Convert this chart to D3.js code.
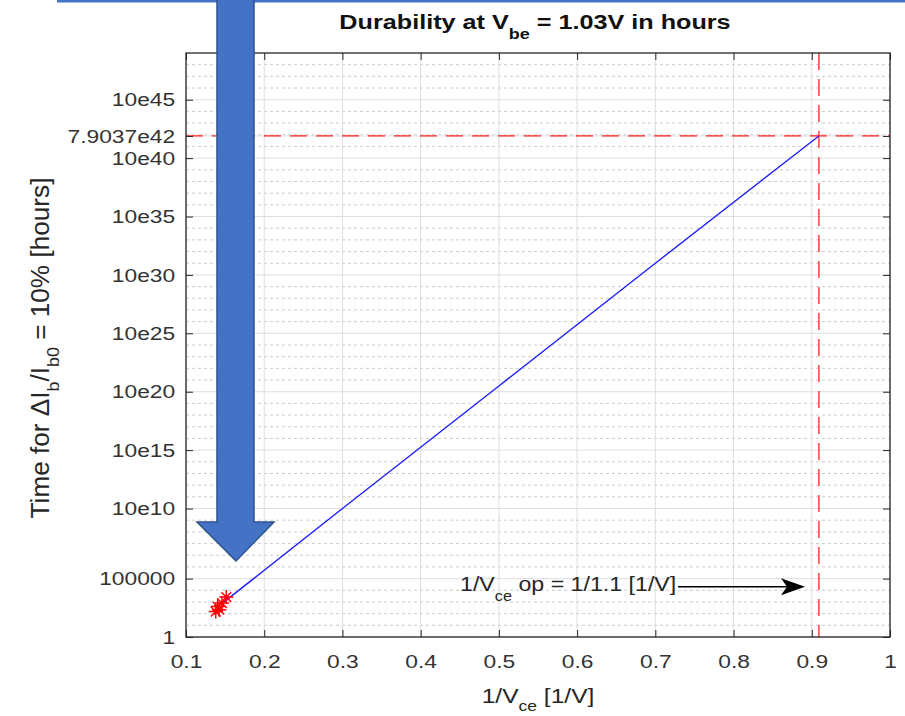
<!DOCTYPE html>
<html>
<head>
<meta charset="utf-8">
<script src="https://cdn.jsdelivr.net/npm/d3@7"></script>
<style>
  body { margin: 0; background: #fff; }
  svg { display: block; font-family: 'Liberation Sans', Arial, Helvetica, sans-serif; }
</style>
</head>
<body>
<svg id="chart"></svg>
<script>
// axis ticks
const xTicks = [0.1, 0.2, 0.3, 0.4, 0.5, 0.6, 0.7, 0.8, 0.9, 1]
const xTickLabels = ['0.1', '0.2', '0.3', '0.4', '0.5', '0.6', '0.7', '0.8', '0.9', '1']
const yTicks = [1, 1e5, 1e11, 1e16, 1e21, 1e26, 1e31, 1e36, 1e41, 7.9037e42, 1e46]
const yTickLabels = ['1', '100000', '10e10', '10e15', '10e20', '10e25', '10e30', '10e35', '10e40', '7.9037e42', '10e45']

// durability line, 1/Vce [1/V] vs hours
const lineX = [0.1455, 0.3, 0.5, 0.7, 0.9091]
const lineY = [6.8e2, 1.0e11, 3.1e21, 1.0e32, 7.9037e42]

// measured points (red stars)
const starX = [0.1380, 0.1405, 0.1425, 0.1460, 0.1515]
const starY = [1.5e2, 4.0e2, 2.2e2, 8.0e2, 2.6e3]

// operating point 1/1.1
const opX = 0.9091
const opY = 7.9037e42

// annotation: text x, arrow start x, arrow end x / text y, arrow y
const noteX = [0.4503, 0.729, 0.8913]
const noteY = [8.7e3, 2.0e4]

const W = 905
const H = 716
const pLeft = 186
const pRight = 890
const pTop = 53
const pBottom = 637
const axisColor = '#262626'

let svg = d3.select('#chart').attr('width', W).attr('height', H)

let x = d3.scaleLinear().domain([0.1, 1]).range([pLeft, pRight])
let y = d3.scaleLog().domain([1, 1e50]).range([pBottom, pTop])

// grid
let grid = svg.append('g')
let minor = d3.range(1, 50).map(e => Math.pow(10, e))
  .filter(v => !yTicks.some(t => Math.abs(Math.log10(t) - Math.log10(v)) < 0.01))
grid.selectAll('.minor').data(minor).enter().append('line')
  .attr('x1', pLeft).attr('x2', pRight)
  .attr('y1', d => y(d)).attr('y2', d => y(d))
  .attr('stroke', '#cccccc')
  .attr('stroke-width', 1)
  .attr('stroke-dasharray', '3,3')
grid.selectAll('.hmajor').data(yTicks).enter().append('line')
  .attr('x1', pLeft).attr('x2', pRight)
  .attr('y1', d => y(d)).attr('y2', d => y(d))
  .attr('stroke', '#dedede')
  .attr('stroke-width', 1)
grid.selectAll('.vmajor').data(xTicks).enter().append('line')
  .attr('x1', d => x(d)).attr('x2', d => x(d))
  .attr('y1', pTop).attr('y2', pBottom)
  .attr('stroke', '#dedede')
  .attr('stroke-width', 1)

// red dashed reference lines
svg.append('line')
  .attr('x1', pLeft).attr('x2', pRight)
  .attr('y1', y(opY)).attr('y2', y(opY))
  .attr('stroke', '#ff2020')
  .attr('stroke-width', 1.3)
  .attr('stroke-dasharray', '17,9')
svg.append('line')
  .attr('x1', x(opX)).attr('x2', x(opX))
  .attr('y1', pTop).attr('y2', pBottom)
  .attr('stroke', '#ff2020')
  .attr('stroke-width', 1.3)
  .attr('stroke-dasharray', '17,9')

// data line
let path = d3.line()
  .x(d => x(d[0]))
  .y(d => y(d[1]))
svg.append('path')
  .attr('d', path(d3.zip(lineX, lineY)))
  .attr('stroke', '#2020ff')
  .attr('stroke-width', 1.4)
  .attr('fill', 'none')

// star markers
let s = 7
let star = `M${-s},0L${s},0M0,${-s}L0,${s}M${-s * 0.7},${-s * 0.7}L${s * 0.7},${s * 0.7}M${-s * 0.7},${s * 0.7}L${s * 0.7},${-s * 0.7}`
svg.selectAll('.star').data(d3.zip(starX, starY)).enter().append('path')
  .attr('d', star)
  .attr('transform', d => `translate(${x(d[0])},${y(d[1])})`)
  .attr('stroke', '#ff0000')
  .attr('stroke-width', 1.5)
  .attr('fill', 'none')

// axes, ticks inward
function styleAxis (g) {
  g.select('.domain').remove()
  g.selectAll('.tick line').attr('stroke', axisColor).attr('stroke-width', 1)
  g.selectAll('.tick text').attr('fill', '#333').attr('font-size', 19)
    .attr('transform', 'scale(1.2,1)')
}

svg.append('g').attr('transform', `translate(${pLeft},0)`)
  .call(d3.axisLeft(y).tickValues(yTicks).tickFormat((d, i) => yTickLabels[i])
    .tickSizeInner(-7).tickSizeOuter(0).tickPadding(9))
  .call(styleAxis)
svg.append('g').attr('transform', `translate(${pRight},0)`)
  .call(d3.axisRight(y).tickValues(yTicks).tickFormat('')
    .tickSizeInner(-7).tickSizeOuter(0))
  .call(styleAxis)
svg.append('g').attr('transform', `translate(0,${pBottom})`)
  .call(d3.axisBottom(x).tickValues(xTicks).tickFormat((d, i) => xTickLabels[i])
    .tickSizeInner(-7).tickSizeOuter(0).tickPadding(18))
  .call(styleAxis)
svg.append('g').attr('transform', `translate(0,${pTop})`)
  .call(d3.axisTop(x).tickValues(xTicks).tickFormat('')
    .tickSizeInner(-7).tickSizeOuter(0))
  .call(styleAxis)

svg.append('rect')
  .attr('x', pLeft).attr('y', pTop)
  .attr('width', pRight - pLeft).attr('height', pBottom - pTop)
  .attr('fill', 'none')
  .attr('stroke', axisColor)
  .attr('stroke-width', 1.3)

// annotation text and arrow
let note = svg.append('text')
  .attr('transform', `translate(${x(noteX[0])},${y(noteY[0])}) scale(1.16,1)`)
  .attr('font-size', 20)
  .attr('fill', axisColor)
note.append('tspan').text('1/V')
note.append('tspan').attr('dy', 10).attr('font-size', 14).text('ce')
note.append('tspan').attr('dy', -10).text(' op = 1/1.1 [1/V]')

let ay = y(noteY[1])
let ax0 = x(noteX[1])
let ax1 = x(noteX[2])
svg.append('line')
  .attr('x1', ax0).attr('x2', ax1 - 10)
  .attr('y1', ay).attr('y2', ay)
  .attr('stroke', '#000')
  .attr('stroke-width', 1.3)
svg.append('path')
  .attr('d', `M${ax1},${ay}L${ax1 - 24},${ay - 8.5}L${ax1 - 18},${ay}L${ax1 - 24},${ay + 8.5}Z`)
  .attr('fill', '#000')

// title
let title = svg.append('text')
  .attr('transform', `translate(${(pLeft + pRight) / 2 - 3},29) scale(1.2,1)`)
  .attr('text-anchor', 'middle')
  .attr('font-size', 21)
  .attr('font-weight', 'bold')
  .attr('fill', '#111')
title.append('tspan').text('Durability at V')
title.append('tspan').attr('dy', 10).attr('font-size', 15).text('be')
title.append('tspan').attr('dy', -10).text(' = 1.03V in hours')

// x label
let xl = svg.append('text')
  .attr('transform', `translate(${(pLeft + pRight) / 2},703) scale(1.17,1)`)
  .attr('text-anchor', 'middle')
  .attr('font-size', 21)
  .attr('fill', axisColor)
xl.append('tspan').text('1/V')
xl.append('tspan').attr('dy', 8).attr('font-size', 15).text('ce')
xl.append('tspan').attr('dy', -8).text(' [1/V]')

// y label
let yl = svg.append('text')
  .attr('transform', `translate(49,348) rotate(-90) scale(1.19,1.15)`)
  .attr('text-anchor', 'middle')
  .attr('font-size', 22)
  .attr('fill', axisColor)
yl.append('tspan').text('Time for \u0394I')
yl.append('tspan').attr('dy', 9).attr('font-size', 15).text('b')
yl.append('tspan').attr('dy', -9).text('/I')
yl.append('tspan').attr('dy', 9).attr('font-size', 15).text('b0')
yl.append('tspan').attr('dy', -9).text(' = 10% [hours]')

// overlay callout: blue rule along the top and big arrow
svg.append('rect')
  .attr('x', 57).attr('y', 0)
  .attr('width', W - 57).attr('height', 2.5)
  .attr('fill', '#4472c4')
let tipX = 236
let tipY = 561
let arrow = [
  [tipX - 19, -5], [tipX + 18, -5], [tipX + 18, 522], [tipX + 38, 522],
  [tipX, tipY], [tipX - 39, 522], [tipX - 19, 522]
]
svg.append('path')
  .attr('d', 'M' + arrow.join('L') + 'Z')
  .attr('fill', '#4472c4')
  .attr('stroke', '#2f528f')
  .attr('stroke-width', 1.5)
</script>
</body>
</html>
